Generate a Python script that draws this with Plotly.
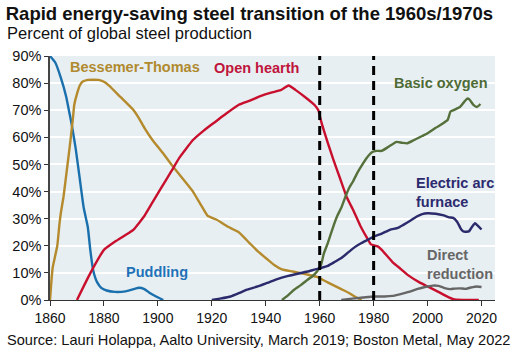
import plotly.graph_objects as go

# Share of global steel production by process (percent)
puddling_years = [1860, 1862, 1864, 1866, 1867, 1868, 1869.5, 1871, 1872.5, 1874, 1875, 1876, 1877.5,
                  1879, 1881, 1884, 1888, 1891, 1893, 1895, 1897, 1899.5, 1902]
puddling_vals = [90, 87.5, 82, 75, 70, 65, 56, 45, 34, 27, 18, 11, 6.5,
                 4.5, 3.5, 3, 3.2, 4, 4.5, 4, 2.6, 1.2, 0]

bessemer_years = [1860, 1860.6, 1861, 1862.7, 1863.5, 1864, 1865, 1866, 1867, 1867.6, 1868.5, 1869, 1870,
                  1871, 1872, 1874, 1878, 1880, 1882, 1886, 1891, 1893, 1895, 1898, 1902, 1905, 1909,
                  1913, 1916, 1918.5, 1922, 1926, 1930, 1934, 1937, 1940, 1943, 1946, 1950, 1955, 1959,
                  1962, 1965, 1968, 1971, 1973, 1975.5]
bessemer_vals = [0, 8, 12, 20, 28, 32, 38, 46, 54, 59, 67, 72, 76,
                 79, 80.5, 81.2, 81.2, 80.5, 79, 75, 70, 67, 63.5, 59, 54, 50, 45,
                 40, 35, 31, 29.5, 27, 25, 21, 18, 15.5, 13, 11.3, 10.5, 9.5, 8.5,
                 7, 5.5, 4, 2.5, 1.3, 0]

open_hearth_years = [1870, 1875, 1880, 1884, 1888, 1891, 1895, 1898, 1901, 1905, 1908, 1913, 1917, 1921,
                     1925, 1930, 1934, 1938, 1942, 1945.5, 1948.5, 1951, 1955, 1958, 1959.5, 1960.5, 1963,
                     1965, 1967.5, 1970, 1972.5, 1975, 1977.5, 1979, 1981.5, 1983, 1987, 1990, 1993, 1997,
                     2000, 2004, 2007, 2009.5, 2013, 2019]
open_hearth_vals = [0, 10, 18.5, 21.5, 24, 26, 31, 36, 41, 47.5, 52.5, 59, 62.5, 65.5,
                    68.5, 72, 73.5, 75.2, 76.5, 77.4, 79.1, 77.5, 74.5, 72, 70, 66, 58,
                    52, 45, 38, 33, 27.5, 23, 20.5, 19.8, 18.5, 14, 11.5, 9, 6.5,
                    5, 3, 1.4, 0.3, 0, 0]

basic_oxygen_years = [1946, 1948, 1950.5, 1953, 1955.5, 1957, 1959, 1960.5, 1961.5, 1963, 1965, 1966.5,
                      1968, 1969.5, 1971, 1972.5, 1974, 1975.5, 1977.5, 1979.5, 1981, 1983, 1985.5,
                      1988.5, 1990.5, 1992.5, 1995, 1998, 2000, 2003, 2005.5, 2007.5, 2008.5, 2010,
                      2012, 2013.5, 2014.7, 2015.5, 2017, 2018.3, 2019.6]
basic_oxygen_vals = [0, 1.5, 3.8, 5.5, 7.5, 8.5, 10.5, 13, 17, 21, 27, 31,
                     34, 38, 41.5, 44, 47, 49.5, 52.5, 54.6, 55, 55, 56.5,
                     58.3, 58, 57.8, 59, 60.5, 61.5, 63.5, 65, 66.5, 69.5, 70.2,
                     71.2, 73, 74.3, 74, 72, 71.2, 72.3]

eaf_years = [1920, 1923, 1927, 1930, 1933, 1937, 1940.5, 1944, 1948, 1951, 1955.5, 1958, 1960.3, 1963,
             1965.5, 1968, 1970.5, 1973, 1975.5, 1978, 1980, 1983, 1986, 1989, 1991, 1994, 1996, 1998,
             2000, 2003, 2006, 2008, 2009.5, 2011, 2012.5, 2013.5, 2015.3, 2016.5, 2017.6, 2018.5, 2020]
eaf_vals = [0, 0.5, 1.3, 2.5, 3.8, 5, 6.3, 7.6, 8.8, 9.5, 10.5, 11.2, 11.8, 12.6,
            14, 15.5, 17.5, 19.5, 21, 22.3, 23.4, 24.5, 25.9, 26.6, 27.7, 29.5, 30.8, 31.7,
            32, 31.8, 31.2, 30.5, 30.3, 28.8, 26, 25.2, 25.3, 27, 28.3, 27.5, 26]

dri_years = [1968, 1972, 1976, 1980, 1984, 1987, 1990, 1993, 1996, 1999, 2002, 2004, 2006, 2008.5,
             2010, 2012, 2014, 2016, 2018.4, 2020]
dri_vals = [0, 0.5, 0.9, 1.3, 1.3, 1.5, 2.2, 3, 4, 4.8, 5.3, 5.2, 4.5, 4,
            4.2, 4.3, 4.1, 4.6, 5, 4.8]

transition_years = [1960, 1980]
y_ticks = [0, 10, 20, 30, 40, 50, 60, 70, 80, 90]
y_tick_labels = ["0%", "10%", "20%", "30%", "40%", "50%", "60%", "70%", "80%", "90%"]
x_ticks = [1860, 1880, 1900, 1920, 1940, 1960, 1980, 2000, 2020]

FONT = "Liberation Sans, Arial, sans-serif"

series = [
    (puddling_years, puddling_vals, "#1a6fad"),
    (bessemer_years, bessemer_vals, "#b58a2c"),
    (open_hearth_years, open_hearth_vals, "#c8102e"),
    (basic_oxygen_years, basic_oxygen_vals, "#55703a"),
    (eaf_years, eaf_vals, "#2b2a6c"),
    (dri_years, dri_vals, "#666666"),
]

fig = go.Figure()
for xs, ys, col in series:
    fig.add_trace(go.Scatter(x=xs, y=ys, mode="lines",
                             line=dict(color=col, width=2.4, shape="spline", smoothing=0.4),
                             showlegend=False, hoverinfo="skip"))

for yr in transition_years:
    fig.add_shape(type="line", x0=yr, x1=yr, y0=0, y1=90, xref="x", yref="y",
                  line=dict(color="black", width=3, dash="9px,6px"), layer="above")

labels = [
    ("Bessemer-Thomas", 1891.7, 85.8, "#b08a2e", "center"),
    ("Open hearth", 1936.6, 85.5, "#c0143c", "center"),
    ("Puddling", 1899.5, 10.4, "#1f72b8", "center"),
    ("Basic oxygen", 2004.8, 80.0, "#4e6b36", "center"),
    ("Electric arc<br>furnace", 1994.8, 39.5, "#2c2a6e", "left"),
    ("Direct<br>reduction", 1998.9, 13.2, "#666666", "left"),
]
for text, x, y, col, anchor in labels:
    fig.add_annotation(text=text, x=x, y=y, xref="x", yref="y", showarrow=False,
                       xanchor=anchor, yanchor="middle", align="left",
                       font=dict(family=FONT, size=14.5, color=col, weight="bold"))

fig.add_annotation(text="Percent of global steel production", xref="paper", yref="paper",
                   x=-0.101, y=1.094, xanchor="left", yanchor="middle", showarrow=False,
                   font=dict(family=FONT, size=16.5, color="#111111"))
fig.add_annotation(text="Source: Lauri Holappa, Aalto University, March 2019; Boston Metal, May 2022",
                   xref="paper", yref="paper", x=-0.101, y=-0.164, xanchor="left", yanchor="middle",
                   showarrow=False, font=dict(family=FONT, size=14.6, color="#111111"))

fig.update_layout(
    width=522, height=348,
    margin=dict(l=50, r=27, t=56, b=48),
    paper_bgcolor="white",
    plot_bgcolor="#e7eff2",
    title=dict(text="<b>Rapid energy-saving steel transition of the 1960s/1970s</b>",
               x=0.011, xanchor="left", xref="container",
               y=0.962, yanchor="middle", yref="container",
               font=dict(family=FONT, size=18.5, color="#111111")),
    xaxis=dict(range=[1860, 2025], tickvals=x_ticks, showgrid=False, zeroline=False,
               showline=True, linecolor="#333333", linewidth=1.2,
               ticks="outside", ticklen=5, tickcolor="#333333",
               tickfont=dict(family=FONT, size=14, color="#111111")),
    yaxis=dict(range=[0, 90], tickvals=y_ticks, ticktext=y_tick_labels, showgrid=True,
               gridcolor="white", gridwidth=1.5, zeroline=False,
               showline=True, linecolor="#444444", linewidth=1.5,
               ticks="outside", ticklen=4, tickcolor="#333333",
               tickfont=dict(family=FONT, size=14.5, color="#111111")),
)

fig.write_html("out.html")
